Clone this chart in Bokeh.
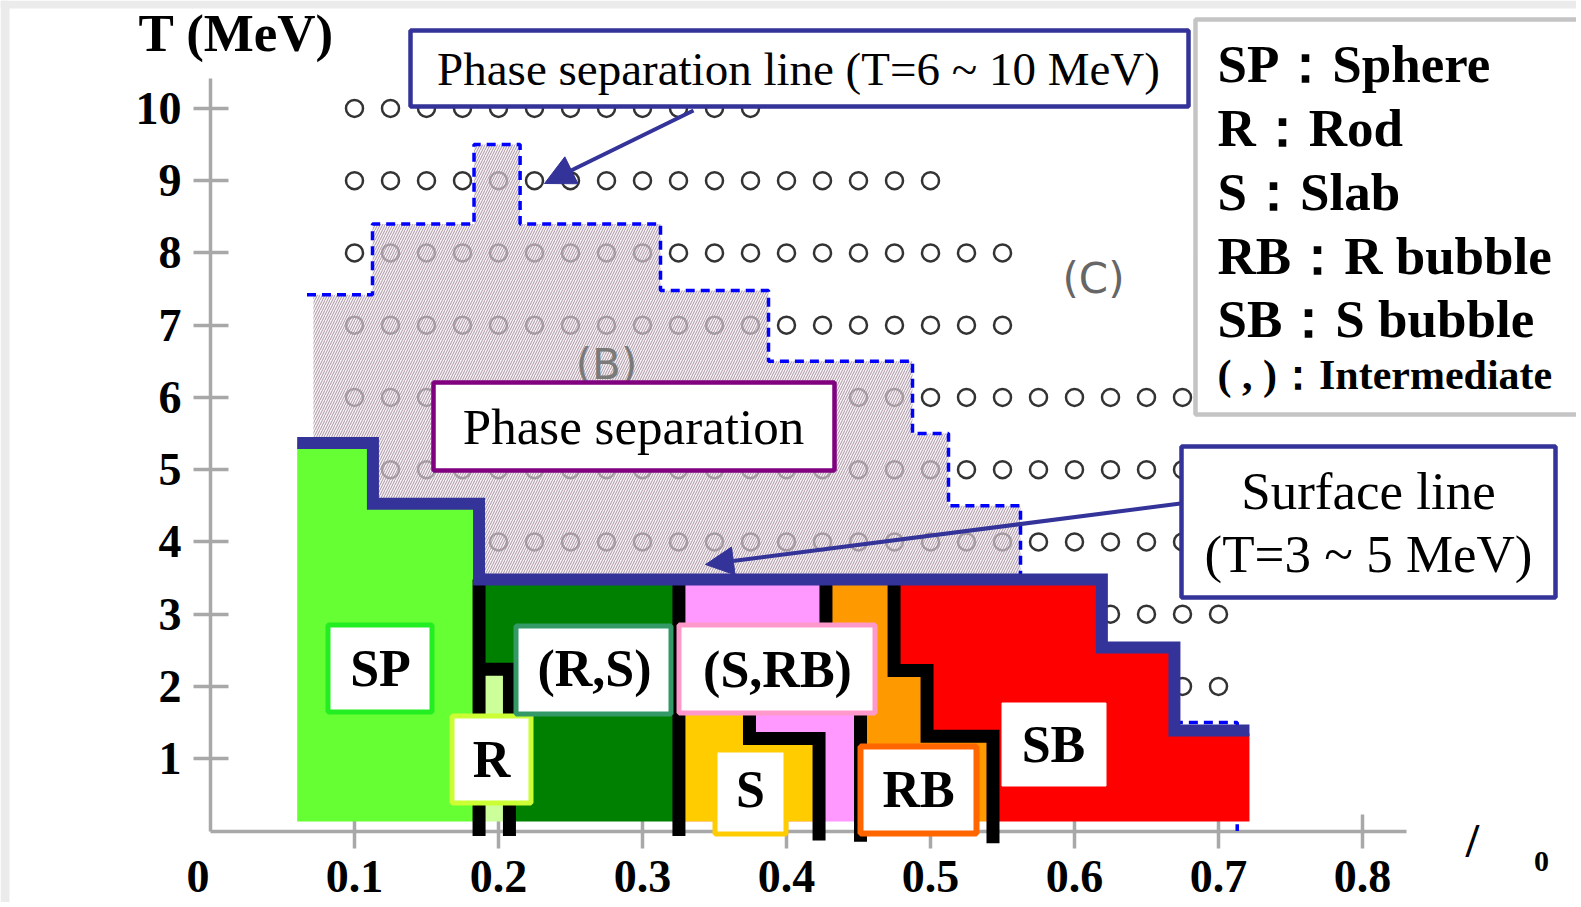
from bokeh.plotting import figure
from bokeh.models import Range1d, LinearAxis, FixedTicker, Arrow, NormalHead
from bokeh.core.properties import value
from bokeh.embed import file_html
from bokeh.resources import INLINE

# ---------------- data ----------------
x_ticks = [0, 0.1, 0.2, 0.3, 0.4, 0.5, 0.6, 0.7, 0.8]
x_tick_labels = ["0", "0.1", "0.2", "0.3", "0.4", "0.5", "0.6", "0.7", "0.8"]
y_ticks = [1, 2, 3, 4, 5, 6, 7, 8, 9, 10]
y_tick_labels = ["1", "2", "3", "4", "5", "6", "7", "8", "9", "10"]

# sampled (rho/rho0, T) grid points (open circles)
grid_x = [0.1, 0.125, 0.15, 0.175, 0.2, 0.225, 0.25, 0.275, 0.3, 0.325, 0.35, 0.375,
          0.4, 0.425, 0.45, 0.475, 0.5, 0.525, 0.55, 0.575, 0.6, 0.625, 0.65, 0.675, 0.7]
grid_rows_T = [10, 9, 8, 7, 6, 5, 4, 3, 2]
grid_rows_n = [12, 17, 19, 19, 24, 24, 24, 25, 25]

# phase separation line (T = 6 ~ 10 MeV)
phase_sep_x = [0.067, 0.1125, 0.1125, 0.183, 0.183, 0.215, 0.215, 0.3125, 0.3125,
               0.3875, 0.3875, 0.4875, 0.4875, 0.5125, 0.5125, 0.5625, 0.5625]
phase_sep_T = [7.42, 7.42, 8.4, 8.4, 9.5, 9.5, 8.4, 8.4, 7.48,
               7.48, 6.5, 6.5, 5.5, 5.5, 4.5, 4.5, 3.55]
phase_sep_low_x = [0.669, 0.713, 0.713]
phase_sep_low_T = [1.5, 1.5, 0.0]

# hatched phase-separation region (B)
hatch_x = [0.0715, 0.1125, 0.1125, 0.183, 0.183, 0.215, 0.215, 0.3125, 0.3125,
           0.3875, 0.3875, 0.4875, 0.4875, 0.5125, 0.5125, 0.5625, 0.5625,
           0.1865, 0.1865, 0.1128, 0.1128, 0.0715]
hatch_T = [7.42, 7.42, 8.4, 8.4, 9.5, 9.5, 8.4, 8.4, 7.48,
           7.48, 6.5, 6.5, 5.5, 5.5, 4.5, 4.5, 3.48,
           3.48, 4.53, 4.53, 5.37, 5.37]

# surface line (T = 3 ~ 5 MeV)
surface_x = [0.0602, 0.1128, 0.1128, 0.1865, 0.1865, 0.619, 0.619, 0.6694, 0.6694, 0.7215]
surface_T = [5.37, 5.37, 4.53, 4.53, 3.48, 3.48, 2.54, 2.54, 1.39, 1.39]

# pasta phase regions
region_names = ["SP", "R", "(R,S)", "(S,RB)", "S", "RB", "SB"]
region_colors = ["#66ff33", "#ccff99", "#008000", "#ff99ff", "#ffcc00", "#ff9900", "#ff0000"]
region_x = [
    [0.0602, 0.0602, 0.1128, 0.1128, 0.1865, 0.1865],
    [0.1865, 0.1865, 0.2076, 0.2076],
    [0.1865, 0.1865, 0.3253, 0.3253, 0.2076, 0.2076],
    [0.3253, 0.3253, 0.4274, 0.4274, 0.4514, 0.4514],
    [0.3253, 0.3253, 0.3743, 0.3743, 0.4226, 0.4226],
    [0.4274, 0.4747, 0.4747, 0.4976, 0.4976, 0.5434, 0.5434, 0.4514, 0.4514, 0.4274],
    [0.4747, 0.619, 0.619, 0.6694, 0.6694, 0.7215, 0.7215, 0.5434, 0.5434, 0.4976, 0.4976, 0.4747],
]
region_T = [
    [0.13, 5.37, 5.37, 4.53, 4.53, 0.13],
    [0.13, 2.24, 2.24, 0.13],
    [2.24, 3.48, 3.48, 0.13, 0.13, 2.24],
    [0.13, 3.48, 3.48, 2.3, 2.3, 0.13],
    [0.13, 2.2, 2.2, 1.28, 1.28, 0.13],
    [3.48, 3.48, 2.22, 2.22, 1.31, 1.31, 0.13, 0.13, 2.3, 2.3],
    [3.48, 3.48, 2.54, 2.54, 1.35, 1.35, 0.13, 0.13, 1.31, 1.31, 2.22, 2.22],
]

# black phase boundaries
boundary_x = [
    [0.1865, 0.1865],
    [0.1865, 0.2076, 0.2076],
    [0.3253, 0.3253],
    [0.3743, 0.3743, 0.4226, 0.4226],
    [0.4274, 0.4274, 0.4514, 0.4514],
    [0.4747, 0.4747, 0.4976, 0.4976, 0.5434, 0.5434],
]
boundary_T = [
    [3.48, -0.07],
    [2.24, 2.24, -0.07],
    [3.48, -0.07],
    [2.2, 1.28, 1.28, -0.13],
    [3.48, 2.3, 2.3, -0.15],
    [3.48, 2.22, 2.22, 1.31, 1.31, -0.17],
]

legend_lines = ["SP：Sphere", "R：Rod", "S：Slab", "RB：R bubble", "SB：S bubble"]
legend_last = "( , )：Intermediate"

# ---------------- layout (pixel calibration of the frame) ----------------
W, H = 1576, 902
X0, XS = 210.0, 1440.0      # px of x=0, px per unit of rho/rho0
Y0, YS = 830.5, 72.26       # px of T=0, px per MeV
BASE_K = 0.36               # baseline correction (fraction of font size)


def dx(px):
    return (px - X0) / XS


def dy(py):
    return (Y0 - py) / YS


def tb(py, size):
    """data y for a text whose baseline should land at pixel row py"""
    return dy(py - BASE_K * size)


NAVY = "#333399"
SERIF = value("Liberation Serif")

p = figure(width=W, height=H, output_backend="svg", toolbar_location=None,
           x_range=Range1d(start=dx(0), end=dx(W)),
           y_range=Range1d(start=dy(H), end=dy(0)),
           x_axis_type=None, y_axis_type=None, min_border=0,
           outline_line_color=None, background_fill_color="white",
           border_fill_color="white")

# light grey slide edges (top and left)
p.quad(left=[dx(0), dx(0)], right=[dx(9), dx(W)], top=[dy(0), dy(0)],
       bottom=[dy(H), dy(8)], fill_color="#ebebeb", line_color=None)

# axes
xaxis = LinearAxis(fixed_location=0, ticker=FixedTicker(ticks=x_ticks[1:]),
                   major_label_overrides={t: s for t, s in zip(x_ticks, x_tick_labels)},
                   bounds=(0, dx(1406)))
yaxis = LinearAxis(fixed_location=0, ticker=FixedTicker(ticks=y_ticks),
                   major_label_overrides={t: s for t, s in zip(y_ticks, y_tick_labels)},
                   bounds=(0, dy(78)))
for ax, tin, tout, standoff in ((xaxis, 17, 17, 13), (yaxis, 18, 17, 12)):
    ax.level = "underlay"
    ax.axis_line_color = "#a8a8a8"
    ax.axis_line_width = 3.5
    ax.major_tick_line_color = "#a8a8a8"
    ax.major_tick_line_width = 3.5
    ax.major_tick_in = tin
    ax.major_tick_out = tout
    ax.minor_tick_line_color = None
    ax.major_label_standoff = standoff
    ax.major_label_text_font = "Liberation Serif"
    ax.major_label_text_font_style = "bold"
    ax.major_label_text_font_size = "46px"
    ax.major_label_text_color = "black"
p.add_layout(xaxis, "below")
p.add_layout(yaxis, "left")
# origin label "0" sits slightly left of the corner
p.text([dx(197.5)], [tb(893, 46)], text=[x_tick_labels[0]], text_align="center",
       text_baseline="alphabetic", text_font=SERIF, text_font_style="bold",
       text_font_size="46px", text_color="black")

# grid of open circles
cx, cy = [], []
for T, n in zip(grid_rows_T, grid_rows_n):
    cx += grid_x[:n]
    cy += [T] * n
p.scatter(cx, cy, marker="circle", size=17, fill_color=None,
          line_color="#333333", line_width=2.5)

# hatched phase separation region
p.patch(hatch_x, hatch_T, fill_color="#f3ecf1", fill_alpha=0.65,
        hatch_pattern="/", hatch_color="#8f7585", hatch_alpha=0.75,
        hatch_weight=1, hatch_scale=5, line_color=None)

# region labels (B), (C)
p.text([dx(606), dx(1093)], [tb(379, 42), tb(293, 42)], text=["(B)", "(C)"],
       text_align="center", text_baseline="alphabetic", text_font=value("DejaVu Sans"),
       text_font_size="42px", text_color=["#7a7a7a", "#666666"])

# phase separation line
p.line(phase_sep_x, phase_sep_T, line_color="#0000ff", line_width=3.5, line_dash="9 6")
p.line(phase_sep_low_x, phase_sep_low_T, line_color="#0000ff", line_width=3.5, line_dash="9 6")

# colored pasta regions
p.patches(xs=region_x, ys=region_T, fill_color=region_colors, line_color=None)

# black phase boundaries
p.multi_line(xs=boundary_x, ys=boundary_T, line_color="black", line_width=13,
             line_join="miter")

# surface line
p.line(surface_x, surface_T, line_color=NAVY, line_width=12, line_join="miter")

# label boxes for regions
lab_left = [325, 449, 513, 676, 712, 857, 1001]
lab_right = [434, 533, 673, 877, 788, 979, 1106]
lab_top = [622, 713, 623, 622, 747, 743, 702]
lab_bot = [714, 805, 716, 715, 836, 836, 786]
lab_line = ["#22ee22", "#ccff33", "#339966", "#ff99cc", "#ffcc00", "#ff6600", "white"]
lab_lw = [5, 5, 5, 5, 5, 6, 1]
bw = [l / 2 for l in lab_lw]
p.quad(left=[dx(v + b) for v, b in zip(lab_left, bw)],
       right=[dx(v - b) for v, b in zip(lab_right, bw)],
       top=[dy(v + b) for v, b in zip(lab_top, bw)],
       bottom=[dy(v - b) for v, b in zip(lab_bot, bw)],
       fill_color="white", line_color=lab_line, line_width=lab_lw)
lab_cx = [380, 491, 594, 777, 750, 918, 1053]
lab_base = [687, 778, 687, 688, 808, 808, 763]
p.text([dx(v) for v in lab_cx], [tb(v, 52) for v in lab_base], text=region_names,
       text_align="center", text_baseline="alphabetic", text_font=SERIF,
       text_font_style="bold", text_font_size="52px", text_color="black")

# callout boxes
cb_left = [408, 431, 1179]
cb_right = [1190, 836, 1557]
cb_top = [28, 380, 444]
cb_bot = [108, 472, 599]
cb_line = [NAVY, "#800080", NAVY]
p.quad(left=[dx(v + 2) for v in cb_left], right=[dx(v - 2) for v in cb_right],
       top=[dy(v + 2) for v in cb_top], bottom=[dy(v - 2) for v in cb_bot],
       fill_color="white", line_color=cb_line, line_width=4.5)
p.text([dx(798)], [tb(85, 47)], text=["Phase separation line (T=6 ~ 10 MeV)"],
       text_align="center", text_baseline="alphabetic", text_font=SERIF,
       text_font_size="47px", text_color="black")
p.text([dx(633)], [tb(445, 51)], text=["Phase separation"],
       text_align="center", text_baseline="alphabetic", text_font=SERIF,
       text_font_size="51px", text_color="black")
p.text([dx(1368), dx(1368)], [tb(510, 53), tb(573, 53)],
       text=["Surface line", "(T=3 ~ 5 MeV)"],
       text_align="center", text_baseline="alphabetic", text_font=SERIF,
       text_font_size="53px", text_color="black")

# arrows
p.add_layout(Arrow(end=NormalHead(size=30, fill_color=NAVY, line_color=NAVY, line_width=1),
                   x_start=dx(693), y_start=dy(110), x_end=dx(544), y_end=dy(183),
                   line_color=NAVY, line_width=4))
p.add_layout(Arrow(end=NormalHead(size=28, fill_color=NAVY, line_color=NAVY, line_width=1),
                   x_start=dx(1180), y_start=dy(503), x_end=dx(705), y_end=dy(564),
                   line_color=NAVY, line_width=4))

# legend box
p.quad(left=[dx(1195)], right=[dx(1620)], top=[dy(19)], bottom=[dy(414)],
       fill_color="white", line_color="#c4c4c4", line_width=4.5)
p.text([dx(1217)] * len(legend_lines), [tb(v, 53) for v in [83, 147, 211, 275, 338]],
       text=legend_lines, text_align="left", text_baseline="alphabetic",
       text_font=SERIF, text_font_style="bold", text_font_size="53px", text_color="black")
p.text([dx(1217)], [tb(390, 42)], text=[legend_last], text_align="left",
       text_baseline="alphabetic", text_font=SERIF, text_font_style="bold",
       text_font_size="42px", text_color="black")

# axis titles
p.text([dx(138)], [tb(52, 53)], text=["T (MeV)"], text_align="left",
       text_baseline="alphabetic", text_font=SERIF, text_font_style="bold",
       text_font_size="53px", text_color="black")
p.text([dx(1472)], [tb(857, 48)], text=["/"], text_align="center",
       text_baseline="alphabetic", text_font=SERIF, text_font_style="bold",
       text_font_size="48px", text_color="black")
p.text([dx(1541)], [tb(872, 30)], text=["0"], text_align="center",
       text_baseline="alphabetic", text_font=SERIF, text_font_style="bold",
       text_font_size="30px", text_color="black")

open("out.html", "w").write(file_html(p, INLINE))
